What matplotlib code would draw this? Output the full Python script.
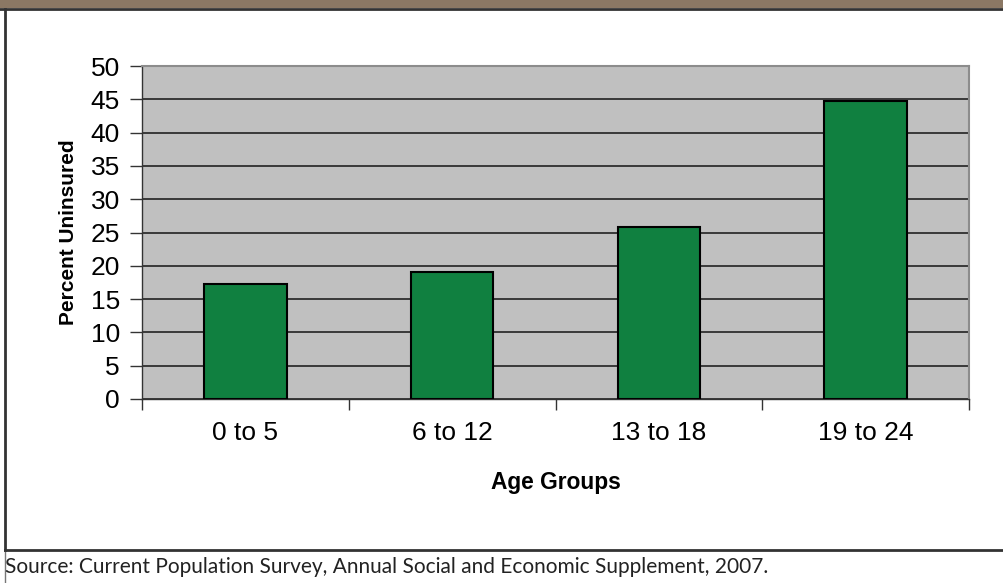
import matplotlib
matplotlib.use("Agg")
import matplotlib.pyplot as plt
from matplotlib.lines import Line2D
from matplotlib.patches import Rectangle
import numpy as np

# percent uninsured by age group (CPS 2007)
age_groups = ["0 to 5", "6 to 12", "13 to 18", "19 to 24"]
pct_uninsured = [17.3, 19.1, 25.9, 44.7]
y_ticks = [0, 5, 10, 15, 20, 25, 30, 35, 40, 45, 50]
source = "Source: Current Population Survey, Annual Social and Economic Supplement, 2007."

W, H = 1004, 583
plt.rcParams['font.family'] = ['Liberation Sans', 'DejaVu Sans']
fig = plt.figure(figsize=(W / 100, H / 100), dpi=100)

# frame decorations
fig.add_artist(Rectangle((0, 1 - 8 / H), 1, 8 / H, transform=fig.transFigure,
                         facecolor="#8b7864", edgecolor="none"))
fig.add_artist(Line2D([0, 1], [1 - 9 / H, 1 - 9 / H], transform=fig.transFigure,
                      color="#333333", lw=2))
fig.add_artist(Line2D([5 / W, 5 / W], [1 - 9 / H, 1 - 550 / H], transform=fig.transFigure,
                      color="#333333", lw=2))
fig.add_artist(Line2D([5 / W, 5 / W], [0, 1 - 550 / H], transform=fig.transFigure,
                      color="#777777", lw=1))
fig.add_artist(Line2D([5 / W, 1], [1 - 550 / H, 1 - 550 / H], transform=fig.transFigure,
                      color="#333333", lw=2))

ax = fig.add_axes([142 / W, 1 - 399 / H, (969 - 142) / W, (399 - 66) / H])
ax.set_facecolor("#c0c0c0")

x = np.arange(len(age_groups))
ax.bar(x, pct_uninsured, width=0.40, color="#108040", edgecolor="black", lw=1.5, zorder=3)

ax.set_xlim(-0.5, len(age_groups) - 0.5)
ax.set_ylim(0, 50)
ax.set_yticks(y_ticks)
ax.yaxis.grid(True, color="#222222", lw=1.2, zorder=1)
ax.set_axisbelow(True)

ax.set_xticks(x)
ax.set_xticklabels(age_groups, fontsize=19)
ax.set_xticks(np.arange(len(age_groups) + 1) - 0.5, minor=True)
ax.tick_params(axis="x", which="major", length=0, pad=16)
ax.tick_params(axis="x", which="minor", length=8, width=1, color="#333333")
ax.tick_params(axis="y", length=9, width=1, color="#333333", labelsize=19, pad=7)

for s in ["top", "right"]:
    ax.spines[s].set_color("#8c8c8c")
    ax.spines[s].set_linewidth(1.5)
for s in ["left", "bottom"]:
    ax.spines[s].set_color("#333333")
    ax.spines[s].set_linewidth(1)

ax.set_xlabel("Age Groups", fontsize=16.4, fontweight="bold")
ax.xaxis.label.set_va("center")
ax.xaxis.set_label_coords(0.5, (399 - 482) / 333)
ax.set_ylabel("Percent Uninsured", fontsize=15, fontweight="bold")
ax.yaxis.label.set_va("center")
ax.yaxis.set_label_coords((68 - 142) / 827, 0.5)

fig.text(5 / W, 1 - 567 / H, source, fontsize=15, family=["Lato", "DejaVu Sans"],
         va="center", ha="left", color="#222222")

fig.savefig("out.png", dpi=100)
